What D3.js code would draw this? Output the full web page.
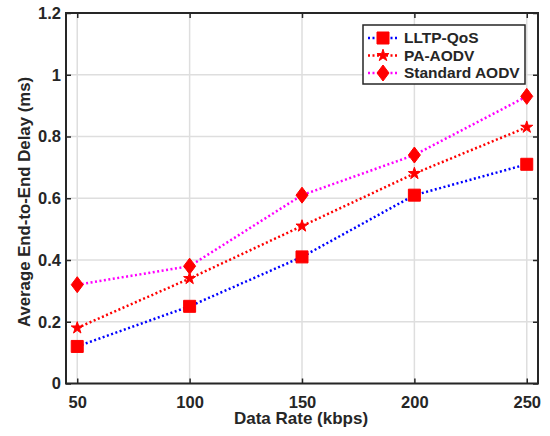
<!DOCTYPE html>
<html>
<head>
<meta charset="utf-8">
<script src="https://cdn.jsdelivr.net/npm/d3@7"></script>
<style>
body { margin: 0; background: #fff; }
text { font-family: "Liberation Sans", Arial, sans-serif; fill: #262626; }
</style>
</head>
<body>
<div class="chart"></div>
<script>
var width = 550;
var height = 436;

// data
var rates = [50, 100, 150, 200, 250];
var lltp = [0.12, 0.25, 0.41, 0.61, 0.71];
var paAodv = [0.18, 0.34, 0.51, 0.68, 0.83];
var stdAodv = [0.32, 0.38, 0.61, 0.74, 0.93];
var yTicks = [0, 0.2, 0.4, 0.6, 0.8, 1, 1.2];

var series = [
	{ name: "LLTP-QoS", values: lltp, color: "#0000ff", marker: "square" },
	{ name: "PA-AODV", values: paAodv, color: "#ff0000", marker: "star" },
	{ name: "Standard AODV", values: stdAodv, color: "#ff00ff", marker: "diamond" }
];

// plot box (window.top is reserved, so prefix these)
var plotLeft = 66, plotRight = 538, plotTop = 13, plotBottom = 383.5;

var svg = d3.select(".chart").append("svg")
	.attr("width", width)
	.attr("height", height);

var xScale = d3.scaleLinear()
	.domain([45, 255])
	.range([plotLeft, plotRight]);
var yScale = d3.scaleLinear()
	.domain([0, 1.2])
	.range([plotBottom, plotTop]);

// grid
var grid = svg.append("g");
grid.selectAll(".gx").data(rates).enter().append("line")
	.attr("x1", function (d) { return xScale(d); })
	.attr("x2", function (d) { return xScale(d); })
	.attr("y1", plotTop).attr("y2", plotBottom)
	.attr("stroke", "#dedede").attr("stroke-width", 1.5);
grid.selectAll(".gy").data(yTicks).enter().append("line")
	.attr("y1", function (d) { return yScale(d); })
	.attr("y2", function (d) { return yScale(d); })
	.attr("x1", plotLeft).attr("x2", plotRight)
	.attr("stroke", "#dedede").attr("stroke-width", 1.5);

// axes (inner ticks on all four sides, like matlab box on)
var fmt = function (d) { return d3.format("")(d); };
var axisStyle = function (g) {
	g.select(".domain").remove();
	g.selectAll(".tick line").attr("stroke", "#262626").attr("stroke-width", 1.5);
	g.selectAll(".tick text")
		.style("font-size", "16.5px")
		.style("font-weight", "bold")
		.attr("fill", "#262626");
};

svg.append("g")
	.attr("transform", "translate(0," + plotBottom + ")")
	.call(d3.axisBottom(xScale).tickValues(rates).tickSizeInner(-5).tickPadding(12.5))
	.call(axisStyle);
svg.append("g")
	.attr("transform", "translate(0," + plotTop + ")")
	.call(d3.axisTop(xScale).tickValues(rates).tickSizeInner(-5).tickFormat(""))
	.call(axisStyle);
svg.append("g")
	.attr("transform", "translate(" + plotLeft + ",0)")
	.call(d3.axisLeft(yScale).tickValues(yTicks).tickFormat(fmt).tickSizeInner(-5).tickPadding(5))
	.call(axisStyle);
svg.append("g")
	.attr("transform", "translate(" + plotRight + ",0)")
	.call(d3.axisRight(yScale).tickValues(yTicks).tickSizeInner(-5).tickFormat(""))
	.call(axisStyle);

svg.append("rect")
	.attr("x", plotLeft).attr("y", plotTop)
	.attr("width", plotRight - plotLeft).attr("height", plotBottom - plotTop)
	.attr("fill", "none")
	.attr("stroke", "#262626")
	.attr("stroke-width", 2);

// markers
var markerPath = {
	square: "M-6,-6H6V6H-6Z",
	diamond: "M0,-8L6,0L0,8L-6,0Z",
	star: d3.symbol().type(d3.symbolStar).size(45)()
};

var line = d3.line()
	.x(function (d, i) { return xScale(rates[i]); })
	.y(function (d) { return yScale(d); });

var plot = svg.append("g");
series.forEach(function (s) {
	plot.append("path")
		.datum(s.values)
		.attr("d", line)
		.attr("fill", "none")
		.attr("stroke", s.color)
		.attr("stroke-width", 2.5)
		.attr("stroke-dasharray", "2,2.5");
});
series.forEach(function (s) {
	plot.selectAll(null)
		.data(s.values)
		.enter().append("path")
		.attr("d", markerPath[s.marker])
		.attr("transform", function (d, i) { return "translate(" + xScale(rates[i]) + "," + yScale(d) + ")"; })
		.attr("fill", "#ff0000")
		.attr("stroke", "#ff0000")
		.attr("stroke-width", 1);
});

// axis labels
svg.append("text")
	.attr("x", 301)
	.attr("y", 424)
	.attr("text-anchor", "middle")
	.style("font-size", "17px")
	.style("font-weight", "bold")
	.text("Data Rate (kbps)");
svg.append("text")
	.attr("transform", "translate(30,202) rotate(-90)")
	.attr("text-anchor", "middle")
	.style("font-size", "16.8px")
	.style("font-weight", "bold")
	.text("Average End-to-End Delay (ms)");

// legend
var legend = svg.append("g");
legend.append("rect")
	.attr("x", 363).attr("y", 25)
	.attr("width", 162).attr("height", 59)
	.attr("fill", "#fff")
	.attr("stroke", "#262626")
	.attr("stroke-width", 1.5);
var rows = legend.selectAll(".row").data(series).enter().append("g")
	.attr("transform", function (d, i) { return "translate(0," + (38 + i * 17.5) + ")"; });
rows.append("line")
	.attr("x1", 368).attr("x2", 398)
	.attr("stroke", function (d) { return d.color; })
	.attr("stroke-width", 2.5)
	.attr("stroke-dasharray", "2,2.5");
rows.append("path")
	.attr("d", function (d) { return markerPath[d.marker]; })
	.attr("transform", "translate(383,0)")
	.attr("fill", "#ff0000")
	.attr("stroke", "#ff0000");
rows.append("text")
	.attr("x", 404)
	.attr("y", 5.3)
	.style("font-size", "15.5px")
	.style("font-weight", "bold")
	.text(function (d) { return d.name; });
</script>
</body>
</html>
